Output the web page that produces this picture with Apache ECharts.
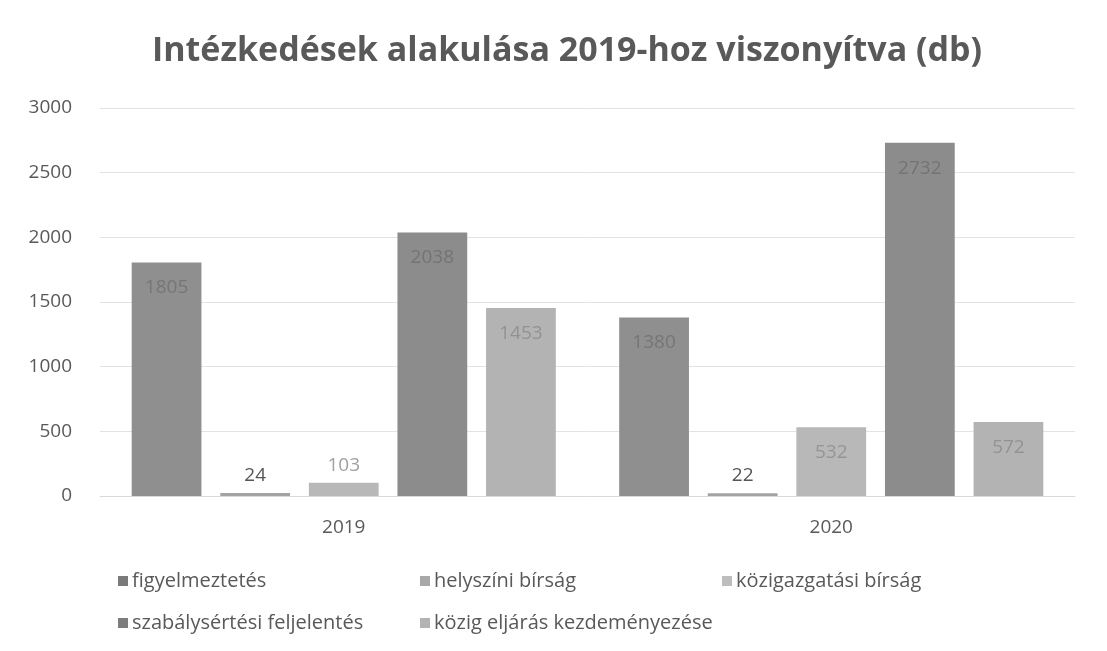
<!DOCTYPE html>
<html><head><meta charset="utf-8">
<script src="https://cdn.jsdelivr.net/npm/echarts@6/dist/echarts.min.js"></script>
<style>html,body{margin:0;padding:0;background:#fff}#c{width:1107px;height:651px}</style>
</head><body><div id="c"></div>
<script>
const categories = ['2019', '2020'];
const seriesNames = ['figyelmeztetés', 'helyszíni bírság', 'közigazgatási bírság', 'szabálysértési feljelentés', 'közig eljárás kezdeményezése'];
const figyelmeztetes = [1805, 1380];
const helyszini = [24, 22];
const kozigazgatasi = [103, 532];
const szabalysertesi = [2038, 2732];
const kozigEljaras = [1453, 572];
const yTicks = [0, 500, 1000, 1500, 2000, 2500, 3000];

const values = [figyelmeztetes, helyszini, kozigazgatasi, szabalysertesi, kozigEljaras];
const barColors = ['#8f8f8f', '#a3a3a3', '#b8b8b8', '#8c8c8c', '#b3b3b3'];
const legendColors = ['#7a7a7a', '#a8a8a8', '#bdbdbd', '#7d7d7d', '#b3b3b3'];
const insideLabelColors = ['#767676', '#8a8a8a', '#959595', '#747474', '#929292'];
const topLabelColors = ['#595959', '#555555', '#a0a0a0', '#595959', '#595959'];
const font = 'Open Sans';

const series = seriesNames.map((name, i) => ({
  name, type: 'bar',
  barGap: '27%', barCategoryGap: '13%',
  itemStyle: { color: barColors[i] },
  data: values[i].map(v => ({
    value: v,
    label: v < 200
      ? { show: true, position: 'top', distance: 8, color: topLabelColors[i], fontSize: 19, fontFamily: font }
      : { show: true, position: 'insideTop', distance: 16, color: insideLabelColors[i], fontSize: 19, fontFamily: font }
  }))
}));

const legendPos = [[113, 566], [415, 566], [717, 566], [113, 608], [415, 608]];
const legends = seriesNames.map((name, i) => ({
  data: [{ name, itemStyle: { color: legendColors[i] } }],
  left: legendPos[i][0], top: legendPos[i][1],
  icon: 'rect', itemWidth: 10, itemHeight: 10, itemGap: 0,
  textStyle: { color: '#595959', fontSize: 20, fontFamily: font, padding: [0, 0, 0, -1] },
  selectedMode: false
}));

const chart = echarts.init(document.getElementById('c'));
chart.setOption({
  animation: false,
  backgroundColor: '#ffffff',
  title: {
    text: 'Intézkedések alakulása 2019-hoz viszonyítva (db)',
    left: 147, top: 29,
    textStyle: { color: '#595959', fontSize: 34, fontWeight: 'bold', fontFamily: font }
  },
  legend: legends,
  grid: { left: 100, right: 32, top: 108, bottom: 155 },
  xAxis: {
    type: 'category', data: categories,
    axisLine: { lineStyle: { color: '#d9d9d9' } },
    axisTick: { show: false },
    axisLabel: { color: '#595959', fontSize: 19, fontFamily: font, margin: 22 }
  },
  yAxis: {
    type: 'value', min: yTicks[0], max: yTicks[yTicks.length - 1], interval: 500,
    axisLine: { show: false }, axisTick: { show: false },
    splitLine: { lineStyle: { color: '#e3e3e3' } },
    axisLabel: { color: '#595959', fontSize: 19, fontFamily: font, margin: 28, formatter: v => String(v) }
  },
  series
});
</script></body></html>
